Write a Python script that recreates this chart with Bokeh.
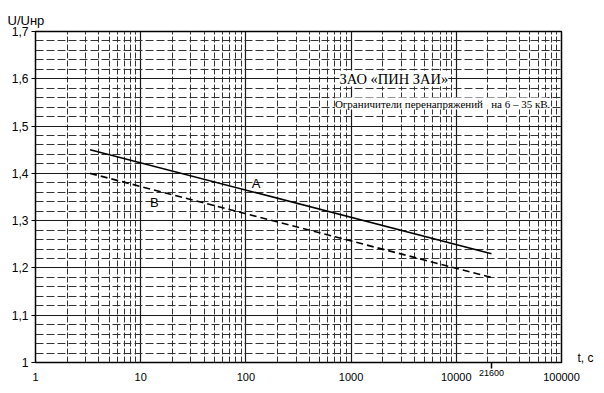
from bokeh.plotting import figure
from bokeh.models import FixedTicker, Label, Range1d, LogAxis, LinearAxis
from bokeh.embed import file_html
from bokeh.resources import INLINE

# ---- data ----
decades = [1, 10, 100, 1000, 10000, 100000]
decade_labels = ["1", "10", "100", "1000", "10000", "100000"]
y_ticks = [1.0, 1.1, 1.2, 1.3, 1.4, 1.5, 1.6, 1.7]
y_labels = ["1", "1,1", "1,2", "1,3", "1,4", "1,5", "1,6", "1,7"]
t_mark = 21600
t_mark_label = "21600"

t_A = [3.3, 21600]
u_A = [1.45, 1.23]
t_B = [3.3, 21600]
u_B = [1.40, 1.18]

title1 = "ЗАО «ПИН ЗАИ»"
title2 = "Ограничители перенапряжений \u00a0 на 6 – 35 кВ"
y_title = "U/Uнр"
x_title = "t, c"
x_title_pos = 1.009

x_minor = [m * d for d in decades[:-1] for m in range(2, 10)]
y_minor = [round(1.0 + 0.02 * i, 2) for i in range(36)]

p = figure(width=596, height=385, x_axis_type="log",
           x_range=Range1d(1, 100000), y_range=Range1d(1.0, 1.7),
           output_backend="svg", toolbar_location=None,
           min_border_left=35, min_border_right=34,
           min_border_top=31, min_border_bottom=23)
p.background_fill_color = "white"
p.border_fill_color = "white"
p.outline_line_color = "black"
p.outline_line_width = 1.5
p.outline_line_alpha = 1.0

# title used as the y-axis caption at top-left
p.title.text = y_title
p.title.align = "left"
p.title.offset = -28
p.title.standoff = 8
p.title.text_font = "Liberation Sans"
p.title.text_font_size = "13px"
p.title.text_font_style = "normal"
p.title.text_color = "black"

# grids
p.xgrid.ticker = FixedTicker(ticks=decades, minor_ticks=x_minor)
p.ygrid.ticker = FixedTicker(ticks=y_ticks, minor_ticks=y_minor)
for g in (p.xgrid, p.ygrid):
    g.grid_line_color = "#1a1a1a"
    g.grid_line_width = 1.2
    g.grid_line_alpha = 1.0
    g.minor_grid_line_color = "#333333"
    g.minor_grid_line_alpha = 1.0
    g.minor_grid_line_width = 1
p.xgrid.minor_grid_line_dash = "6 2"
p.ygrid.minor_grid_line_dash = "8 3"

# x axis nearest the frame: the 21600 mark
xa = p.xaxis[0]
xa.ticker = FixedTicker(ticks=[t_mark], minor_ticks=[])
xa.major_label_overrides = {t_mark: t_mark_label}
xa.axis_line_color = None
xa.major_tick_out = 6
xa.major_tick_in = 0
xa.major_tick_line_color = "black"
xa.major_tick_line_width = 1.5
xa.minor_tick_out = 0
xa.minor_tick_in = 0
xa.major_label_standoff = 1
xa.major_label_text_font = "Liberation Sans"
xa.major_label_text_font_size = "9px"
xa.major_label_text_color = "black"

# decade labels
xd = LogAxis(ticker=FixedTicker(ticks=decades, minor_ticks=[]))
xd.major_label_overrides = {d: l for d, l in zip(decades, decade_labels)}
xd.axis_line_color = None
xd.major_tick_out = 0
xd.major_tick_in = 0
xd.minor_tick_out = 0
xd.minor_tick_in = 0
xd.major_label_standoff = -6
xd.major_label_text_font = "Liberation Sans"
xd.major_label_text_font_size = "11px"
xd.major_label_text_color = "black"
p.add_layout(xd, "below")

ya = p.yaxis[0]
ya.ticker = FixedTicker(ticks=y_ticks, minor_ticks=[])
ya.major_label_overrides = {v: l for v, l in zip(y_ticks, y_labels)}
ya.axis_line_color = None
ya.major_tick_out = 4
ya.major_tick_in = 0
ya.major_tick_line_color = "black"
ya.major_label_standoff = 3
ya.major_label_text_font = "Liberation Sans"
ya.major_label_text_font_size = "12px"
ya.major_label_text_color = "black"

# right axis carrying the "t, c" caption
yr = LinearAxis(ticker=FixedTicker(ticks=[x_title_pos], minor_ticks=[]))
yr.major_label_overrides = {x_title_pos: x_title}
yr.axis_line_color = None
yr.major_tick_out = 0
yr.major_tick_in = 0
yr.minor_tick_out = 0
yr.minor_tick_in = 0
yr.major_label_standoff = 16
yr.major_label_orientation = "horizontal"
yr.major_label_text_font = "Liberation Sans"
yr.major_label_text_font_size = "12px"
yr.major_label_text_color = "black"
p.add_layout(yr, "right")

# curves
p.line(t_A, u_A, line_color="black", line_width=1.6)
p.line(t_B, u_B, line_color="black", line_width=1.6, line_dash="7 4")


def lab(x, y, text, size, font="Liberation Sans", bg=None):
    l = Label(x=x, y=y, text=text, text_font=font, text_font_size=size,
              text_align="center", text_baseline="middle", text_color="black")
    if bg:
        l.background_fill_color = bg
        l.background_fill_alpha = 1.0
    p.add_layout(l)


lab(125, 1.379, "A", "13px")
lab(13.5, 1.338, "B", "13px")
lab(2547, 1.6006, title1, "14.5px", font="Liberation Serif", bg="white")
lab(7200, 1.5477, title2, "11px", font="Liberation Serif", bg="white")

open("out.html", "w").write(file_html(p, INLINE))
